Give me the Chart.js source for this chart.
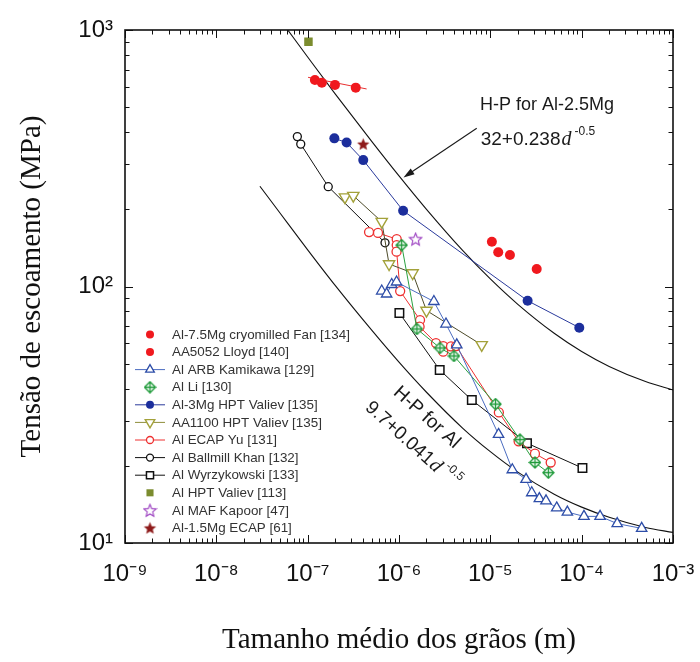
<!DOCTYPE html>
<html>
<head>
<meta charset="utf-8">
<script src="https://cdn.jsdelivr.net/npm/chart.js@4.4.1/dist/chart.umd.min.js"></script>
<style>
  body { margin: 0; background: #fff; }
  #wrap { width: 700px; height: 662px; }
</style>
</head>
<body>
<div id="wrap"><canvas id="hpChart" width="700" height="662"></canvas></div>
<script>
// grain size d (m) vs yield stress (MPa)
const fanD = [1.20e-7, 1.43e-7, 1.99e-7, 3.36e-7];
const fanS = [638, 623, 611, 596];
const fanFitD = [1.01e-7, 4.42e-7];
const fanFitS = [654, 589];
const lloydD = [1.04e-5, 1.22e-5, 1.64e-5, 3.22e-5];
const lloydS = [149.5, 135.9, 132.7, 117.0];
const arbD = [6.47e-7, 7.32e-7, 8.32e-7, 9.40e-7, 2.41e-6, 3.27e-6, 4.29e-6, 1.23e-5, 1.74e-5, 2.46e-5,
  2.84e-5, 3.44e-5, 4.07e-5, 5.33e-5, 6.97e-5, 1.06e-4, 1.59e-4, 2.45e-4, 4.54e-4];
const arbS = [96.0, 93.5, 101.8, 104.1, 87.4, 71.4, 59.2, 26.5, 19.3, 17.7,
  15.7, 14.9, 14.6, 13.7, 13.2, 12.7, 12.7, 11.9, 11.4];
const liD = [1.07e-6, 1.57e-6, 2.81e-6, 4.00e-6, 1.14e-5, 2.11e-5, 3.08e-5, 4.32e-5];
const liS = [145, 68.3, 57.6, 53.6, 34.8, 25.3, 20.6, 18.8];
const mg3D = [1.96e-7, 2.67e-7, 4.06e-7, 1.11e-6, 2.56e-5, 9.42e-5];
const mg3S = [378, 364, 311, 197.5, 88.0, 69.1];
const aa1100D = [2.56e-7, 3.16e-7, 6.47e-7, 7.78e-7, 1.41e-6, 2.00e-6, 8.05e-6];
const aa1100S = [223, 226, 179, 122.4, 112.9, 80.6, 59.2];
const yuD = [4.70e-7, 5.89e-7, 9.44e-7, 9.44e-7, 9.40e-7, 1.03e-6, 1.70e-6, 1.68e-6, 2.54e-6,
  3.05e-6, 3.05e-6, 3.71e-6, 4.21e-6, 1.24e-5, 2.04e-5, 3.08e-5, 4.58e-5];
const yuS = [163, 161.7, 153, 145, 136.7, 96.0, 74.0, 69.7, 60.2,
  58.6, 55.7, 58.4, 58.6, 32.3, 24.9, 22.3, 20.6];
const khanD = [7.71e-8, 8.40e-8, 1.68e-7, 7.03e-7];
const khanS = [384, 359, 245, 148];
const wyrzD = [1.01e-6, 2.79e-6, 6.27e-6, 2.52e-5, 1.02e-4];
const wyrzS = [78.8, 47.3, 36.1, 24.5, 19.6];
const hptD = [1.02e-7];
const hptS = [900];
const kapoorD = [1.52e-6];
const kapoorS = [153];
const ecapMgD = [4.06e-7];
const ecapMgS = [359];

// Hall-Petch curves as drawn
const hpMgD = [6.1e-8, 1e-7, 2e-7, 5e-7, 1e-6, 2e-6, 5e-6, 1e-5, 2e-5, 5e-5, 1e-4, 2e-4, 5e-4, 1e-3];
const hpMgS = [996, 785, 564, 369, 270, 200, 138, 107, 85.2, 65.7, 55.8, 48.8, 42.6, 39.5];
const hpAlD = [3e-8, 5e-8, 1e-7, 2e-7, 5e-7, 1e-6, 2e-6, 5e-6, 1e-5, 2e-5, 5e-5, 1e-4, 2e-4, 5e-4, 1e-3];
const hpAlS = [246, 193, 139, 101, 67.7, 50.7, 38.7, 28.0, 22.7, 18.9, 15.5, 13.8, 12.6, 11.5, 11.0];

const legendLabels = [
  "Al-7.5Mg cryomilled Fan [134]", "AA5052 Lloyd [140]", "Al ARB Kamikawa [129]", "Al Li [130]",
  "Al-3Mg HPT Valiev [135]", "AA1100 HPT Valiev [135]", "Al ECAP Yu [131]", "Al Ballmill Khan [132]",
  "Al Wyrzykowski [133]", "Al HPT Valiev [113]", "Al MAF Kapoor [47]", "Al-1.5Mg ECAP [61]"
];

const xDecades = [1e-9, 1e-8, 1e-7, 1e-6, 1e-5, 1e-4, 1e-3];
const xTickLabels = ["10⁻⁹", "10⁻⁸", "10⁻⁷", "10⁻⁶", "10⁻⁵", "10⁻⁴", "10⁻³"];
const yDecades = [10, 100, 1000];
const yTickLabels = ["10¹", "10²", "10³"];

const SANS = "'Liberation Sans', Arial, sans-serif";
const SERIF = "'Liberation Serif', 'Times New Roman', serif";

const pts = (xs, ys) => xs.map((d, i) => ({ x: d, y: ys[i] }));

function makeStar(size, fill, stroke) {
  const c = document.createElement("canvas");
  c.width = c.height = size;
  const g = c.getContext("2d");
  const cx = size / 2, cy = size / 2 + 0.5, r = size / 2 - 1, ri = r * 0.45;
  g.beginPath();
  for (let k = 0; k < 10; k++) {
    const a = -Math.PI / 2 + k * Math.PI / 5;
    const rr = k % 2 ? ri : r;
    g.lineTo(cx + rr * Math.cos(a), cy + rr * Math.sin(a));
  }
  g.closePath();
  g.fillStyle = fill;
  g.fill();
  if (stroke) { g.strokeStyle = stroke; g.lineWidth = 1.1; g.stroke(); }
  return c;
}

function makeCrossDiamond(size, color) {
  const c = document.createElement("canvas");
  c.width = c.height = size;
  const g = c.getContext("2d");
  const m = size / 2, r = size / 2 - 1;
  g.beginPath();
  g.moveTo(m, m - r); g.lineTo(m + r, m); g.lineTo(m, m + r); g.lineTo(m - r, m); g.closePath();
  g.fillStyle = "#fff"; g.fill();
  g.strokeStyle = color; g.lineWidth = 1.3; g.stroke();
  g.beginPath();
  g.moveTo(m, m - r); g.lineTo(m, m + r);
  g.moveTo(m - r, m); g.lineTo(m + r, m);
  g.stroke();
  return c;
}

const purpleStar = makeStar(15, "#fff", "#9b3fc0");
const redStar = makeStar(15, "#8e1a1a", null);
const liMark = makeCrossDiamond(13, "#1f9a3a");

const datasets = [
  { label: legendLabels[0], data: pts(fanD, fanS), pointStyle: "circle", pointRadius: 5,
    pointBackgroundColor: "#f0191e", pointBorderColor: "#f0191e", pointBorderWidth: 0, legendLine: false },
  { label: legendLabels[1], data: pts(lloydD, lloydS), pointStyle: "circle", pointRadius: 5,
    pointBackgroundColor: "#f0191e", pointBorderColor: "#f0191e", pointBorderWidth: 0, legendLine: false },
  { label: legendLabels[2], data: pts(arbD, arbS), pointStyle: "triangle", pointRadius: 6,
    pointBackgroundColor: "#fff", pointBorderColor: "#2d4da8", pointBorderWidth: 1.3,
    showLine: true, borderColor: "#4a6cc0", borderWidth: 1, legendLine: true },
  { label: legendLabels[3], data: pts(liD, liS), pointStyle: liMark, pointRadius: 6,
    pointBackgroundColor: "#fff", pointBorderColor: "#1f9a3a", pointBorderWidth: 1.3,
    showLine: true, borderColor: "#2aa040", borderWidth: 1, legendLine: false },
  { label: legendLabels[4], data: pts(mg3D, mg3S), pointStyle: "circle", pointRadius: 5,
    pointBackgroundColor: "#1c2e9c", pointBorderColor: "#1c2e9c", pointBorderWidth: 0,
    showLine: true, borderColor: "#2a3a9c", borderWidth: 1, legendLine: true },
  { label: legendLabels[5], data: pts(aa1100D, aa1100S), pointStyle: "triangle", pointRotation: 180, pointRadius: 6.5,
    pointBackgroundColor: "#fff", pointBorderColor: "#a3a13a", pointBorderWidth: 1.4,
    showLine: true, borderColor: "#4d4b2a", borderWidth: 1, legendLine: true, legendLineColor: "#8f8d3a" },
  { label: legendLabels[6], data: pts(yuD, yuS), pointStyle: "circle", pointRadius: 4.5,
    pointBackgroundColor: "#fff", pointBorderColor: "#ee3030", pointBorderWidth: 1.3,
    showLine: true, borderColor: "#ee3030", borderWidth: 1, legendLine: true },
  { label: legendLabels[7], data: pts(khanD, khanS), pointStyle: "circle", pointRadius: 4,
    pointBackgroundColor: "#fff", pointBorderColor: "#111", pointBorderWidth: 1.3,
    showLine: true, borderColor: "#111", borderWidth: 1, legendLine: true },
  { label: legendLabels[8], data: pts(wyrzD, wyrzS), pointStyle: "rect", pointRadius: 6,
    pointBackgroundColor: "#fff", pointBorderColor: "#111", pointBorderWidth: 1.5,
    showLine: true, borderColor: "#111", borderWidth: 1, legendLine: true },
  { label: legendLabels[9], data: pts(hptD, hptS), pointStyle: "rect", pointRadius: 6,
    pointBackgroundColor: "#7b8c2e", pointBorderColor: "#7b8c2e", pointBorderWidth: 0, legendLine: false },
  { label: legendLabels[10], data: pts(kapoorD, kapoorS), pointStyle: purpleStar, pointRadius: 7,
    pointBackgroundColor: "#fff", pointBorderColor: "#9b3fc0", pointBorderWidth: 1, legendLine: false },
  { label: legendLabels[11], data: pts(ecapMgD, ecapMgS), pointStyle: redStar, pointRadius: 7,
    pointBackgroundColor: "#8e1a1a", pointBorderColor: "#8e1a1a", pointBorderWidth: 0, legendLine: false },
  // fit line through the Fan points
  { label: "fanFit", data: pts(fanFitD, fanFitS), showLine: true, pointRadius: 0,
    borderColor: "#e83030", borderWidth: 1 },
  // H-P curves
  { label: "H-P Al-2.5Mg", data: pts(hpMgD, hpMgS), showLine: true, pointRadius: 0,
    borderColor: "#111", borderWidth: 1.1, cubicInterpolationMode: "monotone" },
  { label: "H-P Al", data: pts(hpAlD, hpAlS), showLine: true, pointRadius: 0,
    borderColor: "#111", borderWidth: 1.1, cubicInterpolationMode: "monotone" }
];

function minorTicks(lo, hi) {
  const out = [];
  for (let e = lo; e < hi; e++) {
    for (let m = 1; m < 10; m++) out.push({ value: m * Math.pow(10, e) });
  }
  out.push({ value: Math.pow(10, hi) });
  return out;
}

const isDecade = (v) => Math.abs(Math.log10(v) - Math.round(Math.log10(v))) < 1e-6;

function decadeLabel(value, decades, labels) {
  const i = decades.findIndex((d) => Math.abs(Math.log10(d) - Math.log10(value)) < 1e-6);
  return i >= 0 ? labels[i] : "";
}

// frame with inward ticks on all four sides
const frame = {
  id: "frame",
  afterDatasetsDraw(chart) {
    const { ctx, chartArea: a, scales } = chart;
    ctx.save();
    ctx.strokeStyle = "#111";
    ctx.lineWidth = 1;
    ctx.beginPath();
    scales.x.ticks.forEach((t) => {
      const p = Math.round(scales.x.getPixelForValue(t.value)) + 0.5;
      const len = isDecade(t.value) ? 8 : 4.5;
      ctx.moveTo(p, a.bottom); ctx.lineTo(p, a.bottom - len);
      ctx.moveTo(p, a.top); ctx.lineTo(p, a.top + len);
    });
    scales.y.ticks.forEach((t) => {
      const p = Math.round(scales.y.getPixelForValue(t.value)) + 0.5;
      const len = isDecade(t.value) ? 8 : 4.5;
      ctx.moveTo(a.left, p); ctx.lineTo(a.left + len, p);
      ctx.moveTo(a.right, p); ctx.lineTo(a.right - len, p);
    });
    ctx.stroke();
    ctx.lineWidth = 1.6;
    ctx.strokeRect(a.left, a.top, a.right - a.left, a.bottom - a.top);
    ctx.restore();
  }
};

function drawFormula(ctx, x, y, lead, size) {
  ctx.font = `${size}px ${SANS}`;
  ctx.fillText(lead, x, y);
  let w = ctx.measureText(lead).width + 1;
  ctx.font = `italic ${size + 1}px ${SERIF}`;
  ctx.fillText("d", x + w, y);
  w += ctx.measureText("d").width + 3;
  ctx.font = `${Math.round(size * 0.62)}px ${SANS}`;
  ctx.fillText("-0.5", x + w, y - size * 0.45);
}

// H-P labels and arrow
const notes = {
  id: "notes",
  afterDatasetsDraw(chart) {
    const { ctx, scales: { x, y } } = chart;
    const px = (d) => x.getPixelForValue(d);
    const py = (s) => y.getPixelForValue(s);
    ctx.save();
    ctx.fillStyle = "#1a1a1a";
    ctx.textBaseline = "middle";
    ctx.textAlign = "left";
    ctx.font = `18px ${SANS}`;
    ctx.fillText("H-P for Al-2.5Mg", px(7.7e-6), py(510));
    drawFormula(ctx, px(7.85e-6), py(372), "32+0.238", 19);

    // arrow pointing to the Al-2.5Mg curve
    const tx = px(7.1e-6), ty = py(414), hx = px(1.12e-6), hy = py(266);
    const ang = Math.atan2(hy - ty, hx - tx);
    ctx.strokeStyle = "#1a1a1a";
    ctx.lineWidth = 1.1;
    ctx.beginPath();
    ctx.moveTo(tx, ty);
    ctx.lineTo(hx - 8 * Math.cos(ang), hy - 8 * Math.sin(ang));
    ctx.stroke();
    ctx.beginPath();
    ctx.moveTo(hx, hy);
    ctx.lineTo(hx - 11 * Math.cos(ang) + 3.5 * Math.sin(ang), hy - 11 * Math.sin(ang) - 3.5 * Math.cos(ang));
    ctx.lineTo(hx - 11 * Math.cos(ang) - 3.5 * Math.sin(ang), hy - 11 * Math.sin(ang) + 3.5 * Math.cos(ang));
    ctx.closePath();
    ctx.fill();

    // rotated label along the pure Al curve
    ctx.translate(px(9.3e-7), py(39.5));
    ctx.rotate(42 * Math.PI / 180);
    ctx.font = `19px ${SANS}`;
    ctx.fillText("H-P for Al", 0, 0);
    drawFormula(ctx, -11, 30, "9.7+0.041", 19);
    ctx.restore();
  }
};

// legend box in the lower left of the plot
const legendBox = {
  id: "legendBox",
  afterDatasetsDraw(chart) {
    const { ctx, chartArea: a } = chart;
    const step = 17.6;
    ctx.save();
    ctx.font = `13.4px ${SANS}`;
    ctx.textBaseline = "middle";
    ctx.textAlign = "left";
    legendLabels.forEach((name, i) => {
      const ds = chart.data.datasets[i];
      const yy = a.bottom - 15 - (legendLabels.length - 1 - i) * step;
      const mx = a.left + 25;
      if (ds.legendLine) {
        ctx.strokeStyle = ds.legendLineColor || ds.borderColor;
        ctx.lineWidth = 1;
        ctx.beginPath();
        ctx.moveTo(a.left + 10, yy);
        ctx.lineTo(a.left + 40, yy);
        ctx.stroke();
      }
      ctx.fillStyle = ds.pointBackgroundColor;
      ctx.strokeStyle = ds.pointBorderColor;
      ctx.lineWidth = ds.pointBorderWidth;
      Chart.helpers.drawPoint(ctx, {
        pointStyle: ds.pointStyle,
        rotation: ds.pointRotation || 0,
        radius: Math.max(ds.pointRadius - 1, 3.5),
        borderWidth: ds.pointBorderWidth
      }, mx, yy);
      ctx.fillStyle = "#333";
      ctx.fillText(name, a.left + 47, yy + 0.5);
    });
    ctx.restore();
  }
};

new Chart(document.getElementById("hpChart"), {
  type: "scatter",
  data: { datasets: datasets },
  options: {
    responsive: false,
    animation: false,
    devicePixelRatio: 1,
    layout: { padding: { left: 0, right: 27, top: 30, bottom: 0 } },
    plugins: {
      legend: { display: false },
      tooltip: { enabled: false }
    },
    scales: {
      x: {
        type: "logarithmic",
        min: 1e-9,
        max: 1e-3,
        grid: { display: false, drawTicks: false },
        border: { display: false },
        afterBuildTicks: (scale) => { scale.ticks = minorTicks(-9, -3); },
        afterFit: (scale) => {
          scale.height = 119;
          scale.paddingLeft = 0;
          scale.paddingRight = 0;
        },
        ticks: {
          autoSkip: false,
          maxRotation: 0,
          minRotation: 0,
          padding: 17,
          color: "#111",
          font: { family: SANS, size: 24 },
          callback: (v) => decadeLabel(v, xDecades, xTickLabels)
        },
        title: {
          display: true,
          text: "Tamanho médio dos grãos (m)",
          color: "#111",
          font: { family: SERIF, size: 29 },
          padding: { top: 0, bottom: 4 }
        }
      },
      y: {
        type: "logarithmic",
        min: 10,
        max: 1000,
        grid: { display: false, drawTicks: false },
        border: { display: false },
        afterBuildTicks: (scale) => { scale.ticks = minorTicks(1, 3); },
        afterFit: (scale) => {
          scale.width = 125;
          scale.paddingTop = 0;
          scale.paddingBottom = 0;
        },
        ticks: {
          autoSkip: false,
          padding: 12,
          color: "#111",
          font: { family: SANS, size: 24 },
          callback: (v) => decadeLabel(v, yDecades, yTickLabels)
        },
        title: {
          display: true,
          text: "Tensão de escoamento (MPa)",
          color: "#111",
          font: { family: SERIF, size: 29 },
          padding: { top: 15, bottom: 0 }
        }
      }
    }
  },
  plugins: [frame, notes, legendBox]
});
</script>
</body>
</html>
